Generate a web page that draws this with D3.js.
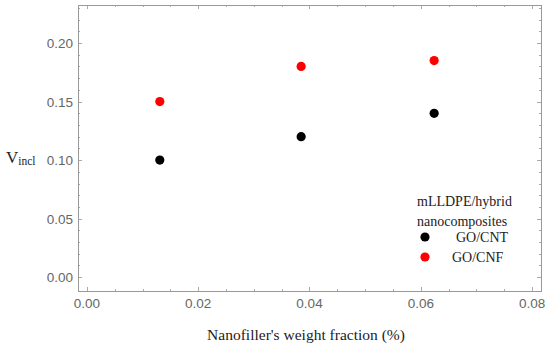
<!DOCTYPE html>
<html>
<head>
<meta charset="utf-8">
<script src="https://cdn.jsdelivr.net/npm/d3@7"></script>
<style>
  html, body { margin: 0; padding: 0; background: #fff; }
  svg { display: block; }
  .tick-label { font-family: "Liberation Sans", Arial, sans-serif; font-size: 13.5px; fill: #666; }
  .serif { font-family: "Liberation Serif", "Times New Roman", serif; fill: #222; }
</style>
</head>
<body>
<div id="chart"></div>
<script>
// data
const weightFraction = [0.0131, 0.0385, 0.0624];
const goCnt = [0.100, 0.120, 0.140];
const goCnf = [0.150, 0.180, 0.185];
const xTicks = [0.00, 0.02, 0.04, 0.06, 0.08];
const yTicks = [0.00, 0.05, 0.10, 0.15, 0.20];
const seriesNames = ["GO/CNT", "GO/CNF"];
const seriesColors = ["#000000", "#ff0000"];

const width = 550, height = 348;
const frame = { left: 78, right: 541, top: 5, bottom: 291 };

const svg = d3.select("#chart").append("svg")
  .attr("width", width)
  .attr("height", height);

const x = d3.scaleLinear()
  .domain([-0.0016, 0.0816])
  .range([frame.left, frame.right]);
const y = d3.scaleLinear()
  .domain([-0.0118, 0.2325])
  .range([frame.bottom, frame.top]);

// minor / major ticks on the inside of the frame
const tickG = svg.append("g").attr("stroke", "#aaa").attr("stroke-width", 1);
d3.range(0, 0.0801, 0.005).forEach(v => {
  const major = xTicks.some(t => Math.abs(t - v) < 1e-6);
  const len = major ? 4 : 2;
  const px = Math.round(x(v)) + 0.5;
  tickG.append("line").attr("x1", px).attr("x2", px).attr("y1", frame.bottom).attr("y2", frame.bottom - len);
  tickG.append("line").attr("x1", px).attr("x2", px).attr("y1", frame.top).attr("y2", frame.top + len);
});
d3.range(0, 0.2301, 0.01).forEach(v => {
  const major = yTicks.some(t => Math.abs(t - v) < 1e-6);
  const len = major ? 4 : 2;
  const py = Math.round(y(v)) + 0.5;
  tickG.append("line").attr("y1", py).attr("y2", py).attr("x1", frame.left).attr("x2", frame.left + len);
  tickG.append("line").attr("y1", py).attr("y2", py).attr("x1", frame.right).attr("x2", frame.right - len);
});

// frame
svg.append("rect")
  .attr("x", frame.left + 0.5)
  .attr("y", frame.top + 0.5)
  .attr("width", frame.right - frame.left)
  .attr("height", frame.bottom - frame.top)
  .attr("fill", "none")
  .attr("stroke", "#999")
  .attr("stroke-width", 1);

// tick labels
svg.append("g").selectAll("text")
  .data(xTicks)
  .join("text")
  .attr("class", "tick-label")
  .attr("x", d => x(d))
  .attr("y", 308)
  .attr("text-anchor", "middle")
  .text(d3.format(".2f"));

svg.append("g").selectAll("text")
  .data(yTicks)
  .join("text")
  .attr("class", "tick-label")
  .attr("x", 73)
  .attr("y", d => y(d) + 5)
  .attr("text-anchor", "end")
  .text(d3.format(".2f"));

// axis titles
svg.append("text")
  .attr("class", "serif")
  .attr("x", 306)
  .attr("y", 340)
  .attr("text-anchor", "middle")
  .style("font-size", "15.5px")
  .text("Nanofiller's weight fraction (%)");

const yTitle = svg.append("text")
  .attr("class", "serif")
  .attr("x", 6)
  .attr("y", 163)
  .style("font-size", "17px");
yTitle.append("tspan").text("V");
yTitle.append("tspan").attr("dy", 2).style("font-size", "11.5px").text("incl");

// points
const series = [goCnt, goCnf];
series.forEach((vals, i) => {
  svg.append("g").selectAll("circle")
    .data(vals)
    .join("circle")
    .attr("cx", (d, j) => x(weightFraction[j]))
    .attr("cy", d => y(d))
    .attr("r", 4.6)
    .attr("fill", seriesColors[i]);
});

// legend
const legend = svg.append("g");
legend.append("text").attr("class", "serif").attr("x", 417).attr("y", 206)
  .style("font-size", "14px").text("mLLDPE/hybrid");
legend.append("text").attr("class", "serif").attr("x", 417).attr("y", 226)
  .style("font-size", "14px").text("nanocomposites");
seriesNames.forEach((name, i) => {
  const cy = 237 + i * 20;
  legend.append("circle").attr("cx", 425).attr("cy", cy).attr("r", 4.6).attr("fill", seriesColors[i]);
  legend.append("text").attr("class", "serif")
    .attr("x", i === 0 ? 456 : 452)
    .attr("y", cy + 5)
    .style("font-size", "14px")
    .text(name);
});
</script>
</body>
</html>
